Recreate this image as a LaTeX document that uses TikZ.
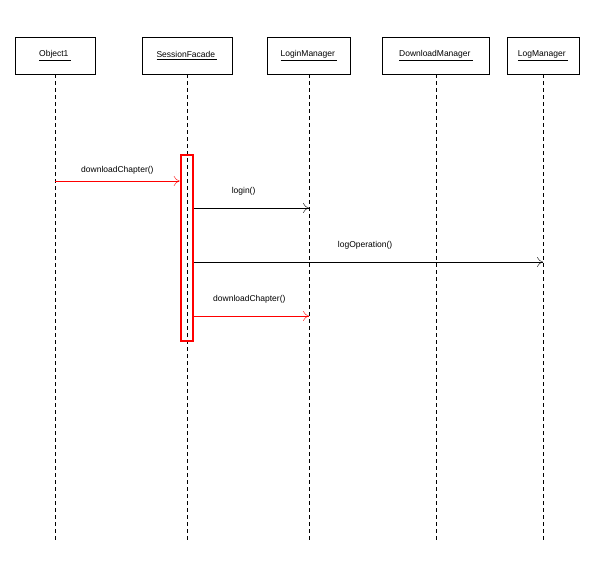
\documentclass[tikz,border=0pt]{standalone}
\usepackage{fontspec}
\setmainfont{Liberation Sans}
\usetikzlibrary{positioning,arrows.meta}
\begin{document}
\begin{tikzpicture}[x=1pt,y=-1pt,font=\fontsize{8.5}{10}\selectfont,
    obj/.style={draw,minimum height=37pt,inner sep=0pt},
    life/.style={dashed,dash pattern=on 4pt off 3pt},
    msg/.style={-{To[length=6pt,width=10pt]}}]
    \useasboundingbox (0,0) rectangle (600,569);
    \node [obj,minimum width=80pt] (o1) at (55,55.5) {\underline{Object1\ }};
    \node [obj,minimum width=90pt] (sf) at (187,55.5) {\underline{SessionFacade\ }};
    \node [obj,minimum width=83pt] (lm) at (309,55.5) {\underline{LoginManager\ }};
    \node [obj,minimum width=107pt] (dm) at (436,55.5) {\underline{DownloadManager\ }};
    \node [obj,minimum width=72pt] (gm) at (543,55.5) {\underline{LogManager\ }};
    % lifelines
    \foreach \n in {o1,sf,lm,dm,gm} {
        \coordinate (\n-end) at (\n.south |- 0,543);
        \draw [life] (\n) -- (\n-end);
    }
    % activation
    \node [draw=red,line width=2.5pt,minimum width=12pt,minimum height=186pt,inner sep=0pt] (act) at (187,248) {};
    % messages
    \coordinate (m1) at (o1 |- 0,181);
    \coordinate (m2) at (lm |- 0,208);
    \coordinate (m3) at (gm |- 0,262);
    \coordinate (m4) at (lm |- 0,316);
    \draw [msg,red] (m1) -- node [above=3pt,black] {downloadChapter()} (m1 -| act.west);
    \draw [msg] (m2 -| act.east) -- node [above=9pt,pos=0.43] {login()} (m2);
    \draw [msg] (m3 -| act.east) -- node [above=9pt,pos=0.49] {logOperation()} (m3);
    \draw [msg,red] (m4 -| act.east) -- node [above=9pt,black,pos=0.48] {downloadChapter()} (m4);
\end{tikzpicture}
\end{document}
